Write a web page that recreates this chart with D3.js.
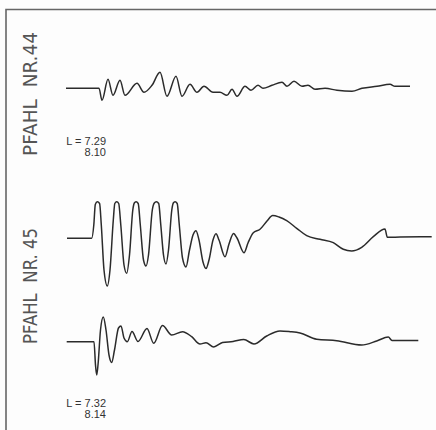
<!DOCTYPE html>
<html>
<head>
<meta charset="utf-8">
<script src="https://cdn.jsdelivr.net/npm/d3@7"></script>
<style>
  html, body { margin: 0; padding: 0; background: #fdfdfd; }
  svg { display: block; }
</style>
</head>
<body>
<script>
// pile integrity records, time in arbitrary units, amplitude relative to baseline
var pile44T = [0, 33, 36, 42, 47, 54, 59, 71, 78, 86, 94, 101, 110, 116, 124, 131, 138, 147, 154, 161, 166, 171, 179, 185, 192, 197, 206, 216, 221, 228, 236, 242, 249, 259, 271, 286, 296, 311, 324, 329, 344];
var pile44A = [0, 0, -12, 9, -7, 8, -7, 5, -4, 3, 16, -8, 12, -8, 4, -4, 2, -4, -4, -7, -1, -8, 2, -2, 3, 0, 3, 6, 2, 7, 2, 3, -1, 0, -2, -3, 0, 2, 4, 2, 2];

var pile45aT = [1, 25.7, 27.8, 29.3, 31.3, 33.6, 35.3, 38, 41.3, 44, 47.3, 48.8, 50.7, 52.7, 54.8, 58, 60.7, 63.5, 66.8, 68.3, 70, 72.2, 74.3, 77.5, 80, 82.5, 86.3, 88.3, 90.3, 92.7, 94.8, 97.5, 100, 102.5, 105.8, 107.3, 109, 111.2, 113.3, 116.5, 120, 123.5, 127, 130, 133, 137, 140, 143, 147, 150, 153, 159, 163, 167.5, 171, 178, 182, 187.3, 194, 201, 206.7, 213, 220.7, 230.7, 240.7, 254, 267.3, 277.3, 285.7, 295.7, 307.3, 319, 321.3, 334, 365.7];
var pile45aA = [-0.8, -0.8, 12.5, 33, 35.8, 34, 12.5, -32.5, -48.5, -32.5, 17.5, 34, 35.8, 34, 12.5, -27.5, -35.8, -17.5, 27.5, 34.5, 35.8, 34, 12.5, -22.5, -28.5, -17.5, 27.5, 34.5, 35.8, 34, 12.5, -17.5, -26.5, -12.5, 27.5, 34.5, 35.8, 34, 12.5, -20.5, -29.5, -12.5, 2.5, 6.8, -2.5, -24.5, -31, -22.5, -2.5, 3.8, -2.5, -19.2, -6.5, 4, -0.5, -15.2, -5.5, 4.8, 8.2, 16.5, 22, 20.5, 16.8, 9.2, 1.8, -1.8, -5.2, -11.8, -13.5, -9.8, 0.8, 8.5, 0.2, 0.5, 0.8];

var pile45bT = [0.7, 28, 29.5, 30.7, 32, 34.5, 37.3, 40, 43, 45.7, 48.5, 52.5, 55, 58, 61.3, 66, 72, 81, 87.7, 96.5, 105.7, 116.5, 125.7, 134, 140, 147.7, 156.5, 167, 177.8, 188, 200.7, 214, 224, 234, 250.7, 270.7, 295.7, 310.7, 322.3, 326, 352.3];
var pile45bA = [-0.2, -0.2, -23.5, -33.5, -23.5, 11.5, 24.5, 11.5, -13.5, -21, -8.5, 13.5, 15.5, 3.5, -0.2, 10, 0, 13, -1.8, 16, 6.5, 9.8, 4.8, -2.5, -1.2, -5.5, -1, 0, 2, -2.5, 5.5, 10.5, 9.8, 8.5, 2.2, 0.8, -3.5, 0.5, 4.5, 1, 1];

var pileLabels = ["PFAHL  NR.44", "PFAHL  NR. 45"];
var lengthLabels = [["L = 7.29", "8.10"], ["L = 7.32", "8.14"]];

var width = 436, height = 430;

var svg = d3.select("body").append("svg")
  .attr("width", width)
  .attr("height", height);

// frame (only top and left edges are visible on the scan)
svg.append("path")
  .attr("d", "M6,430 L6,9.5 L436,9.5")
  .attr("fill", "none")
  .attr("stroke", "#666")
  .attr("stroke-width", 1.6);

var x = d3.scaleLinear().domain([0, 370]).range([66, 436]);

function yScale(base) {
  return d3.scaleLinear().domain([-50, 50]).range([base + 50, base - 50]);
}

var traces = [
  {t: pile44T, a: pile44A, y: yScale(88.3)},
  {t: pile45aT, a: pile45aA, y: yScale(237.5)},
  {t: pile45bT, a: pile45bA, y: yScale(341.5)}
];

traces.forEach(function(tr) {
  var pts = tr.t.map(function(t, i) { return [t, tr.a[i]]; });
  // monotone keeps flat tangents at each extreme, like a pen recorder trace
  var line = d3.line()
    .x(function(d) { return x(d[0]); })
    .y(function(d) { return tr.y(d[1]); })
    .curve(d3.curveMonotoneX);
  svg.append("path")
    .datum(pts)
    .attr("d", line)
    .attr("fill", "none")
    .attr("stroke", "#2b2b2b")
    .attr("stroke-width", 1.5)
    .attr("stroke-linejoin", "round");
});

// rotated pile names
var nameSpots = [{cy: 94, len: 124}, {cy: 286, len: 116}];
svg.selectAll("text.pile")
  .data(pileLabels)
  .enter()
  .append("text")
  .attr("class", "pile")
  .attr("transform", function(d, i) { return "translate(37," + nameSpots[i].cy + ") rotate(-90)"; })
  .attr("text-anchor", "middle")
  .attr("textLength", function(d, i) { return nameSpots[i].len; })
  .attr("lengthAdjust", "spacingAndGlyphs")
  .attr("font-family", "'DejaVu Sans', sans-serif")
  .attr("font-size", 19)
  .attr("fill", "#555")
  .attr("xml:space", "preserve")
  .text(function(d) { return d; });

// length annotations
var lenSpots = [145, 407];
var lg = svg.selectAll("g.len")
  .data(lengthLabels)
  .enter()
  .append("g")
  .attr("class", "len")
  .attr("transform", function(d, i) { return "translate(106," + lenSpots[i] + ")"; });

lg.selectAll("text")
  .data(function(d) { return d; })
  .enter()
  .append("text")
  .attr("y", function(d, i) { return i * 11; })
  .attr("text-anchor", "end")
  .attr("font-family", "'Liberation Sans Narrow', 'Liberation Sans', sans-serif")
  .attr("font-size", 11)
  .attr("fill", "#333")
  .text(function(d) { return d; });
</script>
</body>
</html>
